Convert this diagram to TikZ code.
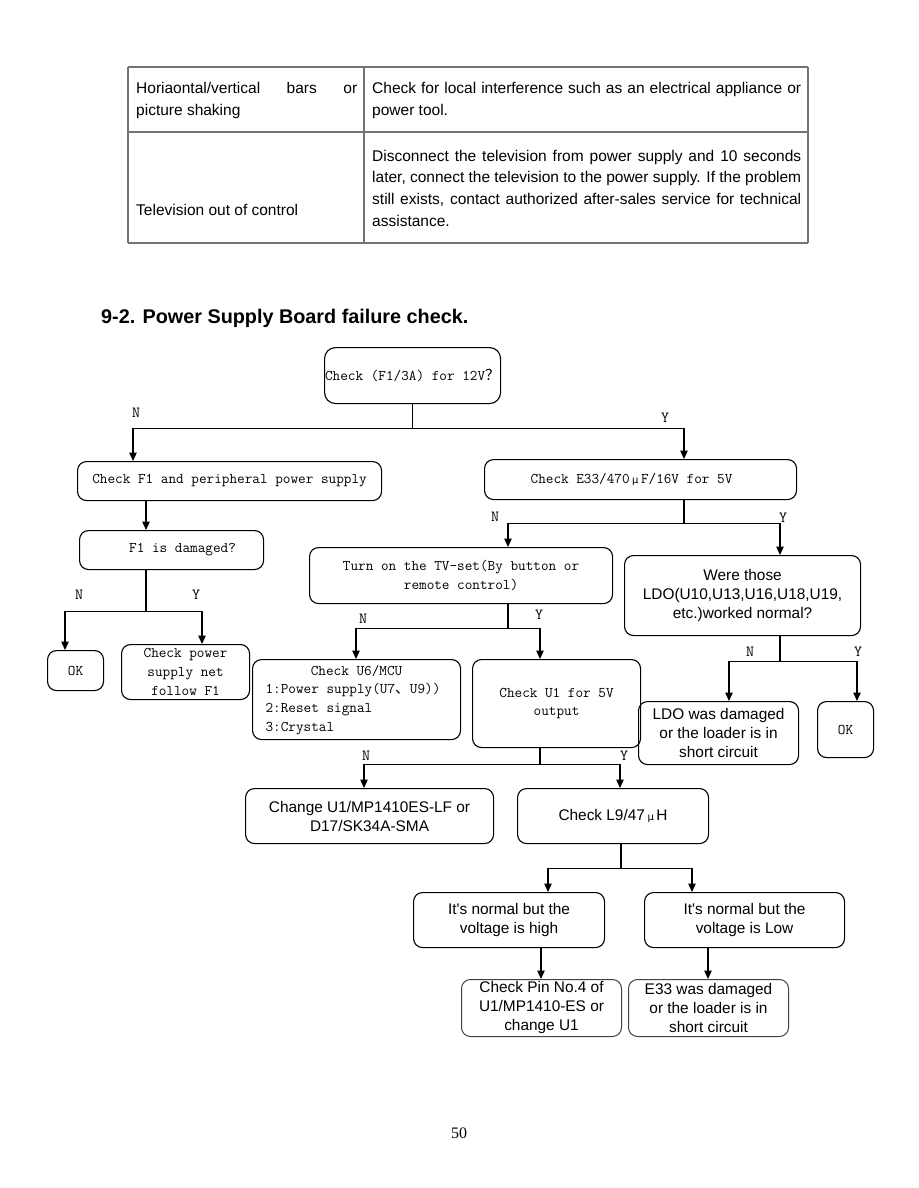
\documentclass[tikz,border=0pt]{standalone}
\usepackage{fontspec}
\usetikzlibrary{arrows.meta}
\newfontfamily\arial{Liberation Sans}
\newfontfamily\tnr{Liberation Serif}
\newfontfamily\cjk{Noto Sans CJK SC}
\newfontfamily\dvs{DejaVu Sans}
\newcommand\mufw{{\dvs\fontsize{10}{10}\selectfont μ}}
\begin{document}
\begin{tikzpicture}[x=1pt,y=-1pt,
  box/.style={draw, line width=1.1pt, rounded corners=9pt, anchor=north west, inner sep=0pt, align=center},
  mono/.style={font=\ttfamily\fontsize{14.8}{18.7}\selectfont},
  sans/.style={font=\arial\fontsize{15.4}{19}\selectfont},
  lbox/.style={box, draw=black!75, line width=1pt},
  arr/.style={line width=1.2pt, -{Triangle[length=8.5pt,width=7.5pt]}},
  ln/.style={line width=1.2pt},
  yn/.style={font=\ttfamily\fontsize{15.5}{15.5}\selectfont, inner sep=0pt},
  tline/.style={draw=black!55, line width=1.2pt},
  tcell/.style={anchor=base west, inner sep=0pt, font=\arial\fontsize{15.5}{21.7}\selectfont}]
\useasboundingbox[fill=white] (0,0) rectangle (918,1188);

% ---------- table ----------
\draw[tline, line width=1.8pt] (128,67) -- (808,67);
\draw[tline] (128,132) -- (808,132);
\draw[tline, line width=1.6pt] (128,243) -- (808,243);
\draw[tline] (128,67) -- (128,243);
\draw[tline] (364,67) -- (364,243);
\draw[tline] (808,67) -- (808,243);
\node[tcell] (t11) at (136,94) {\parbox[t]{221pt}{\makebox[221pt][s]{Horiaontal/vertical bars or}\\picture shaking}};
\node[tcell] (t12) at (372,94) {\parbox[t]{429pt}{\makebox[429pt][s]{Check for local interference such as an electrical appliance or}\\power tool.}};
\node[tcell] (t21) at (136,215) {Television out of control};
\node[tcell] (t22) at (372,161) {\parbox[t]{429pt}{\makebox[429pt][s]{Disconnect the television from power supply and 10 seconds}\\\makebox[429pt][s]{later, connect the television to the power supply. If the problem}\\\makebox[429pt][s]{still exists, contact authorized after-sales service for technical}\\assistance.}};

% ---------- title ----------
\node[anchor=base west, inner sep=0pt, font=\arial\bfseries\fontsize{19.8}{22}\selectfont] (title) at (101,323) {9-2. Power Supply Board failure check.};

% ---------- boxes ----------
\node[box, mono, minimum width=176pt, minimum height=56pt, rounded corners=11pt] (A) at (324,347) {Check (F1/3A) for 12V{\cjk ？}};
\node[box, mono, minimum width=304pt, minimum height=39pt] (B) at (77,461) {Check F1 and peripheral power supply};
\node[box, mono, minimum width=312pt, minimum height=40pt] (C) at (484,459) {Check E33/470\,\mufw\,F/16V for 5V\hspace*{18pt}};
\node[box, mono, minimum width=184pt, minimum height=39pt] (D) at (79,530) {\hspace*{22pt}F1 is damaged?};
\node[box, mono, minimum width=56pt, minimum height=40pt] (E) at (47,650) {OK};
\node[box, mono, minimum width=128pt, minimum height=55pt] (F) at (121,644) {Check power\\supply net\\follow F1};
\node[box, mono, minimum width=303pt, minimum height=56pt] (G) at (309,547) {Turn on the TV-set(By button or\\remote control)};
\node[box, sans, minimum width=236pt, minimum height=80pt] (H) at (624,555) {\raisebox{8pt}{\begin{tabular}{@{}c@{}}Were those\\LDO(U10,U13,U16,U18,U19,\\etc.)worked normal?\end{tabular}}};
\node[box, mono, minimum width=208pt, minimum height=80pt] (I) at (252,659) {\begin{tabular}{@{}l@{}}\makebox[182pt]{Check U6/MCU}\\1:Power supply(U7{\cjk 、}U9))\\2:Reset signal\\3:Crystal\end{tabular}};
\node[box, mono, minimum width=168pt, minimum height=88pt] (J) at (472,659) {Check U1 for 5V\\output};
\node[box, sans, minimum width=160pt, minimum height=63pt] (K) at (638,701) {LDO was damaged\\or the loader is in\\short circuit};
\node[box, mono, minimum width=56pt, minimum height=56pt] (L) at (817,701) {OK};
\node[box, sans, minimum width=248pt, minimum height=55pt] (M) at (245,788) {Change U1/MP1410ES-LF or\\D17/SK34A-SMA};
\node[box, sans, minimum width=191pt, minimum height=55pt] (Nn) at (517,788) {Check L9/47\,\mufw\,H};
\node[box, sans, minimum width=191pt, minimum height=55pt] (O) at (413,892) {It's normal but the\\voltage is high};
\node[box, sans, minimum width=200pt, minimum height=55pt] (P) at (644,892) {It's normal but the\\voltage is Low};
\node[lbox, sans, minimum width=160pt, minimum height=57pt] (Q) at (461,979) {Check Pin No.4 of\\U1/MP1410-ES or\\change U1};
\node[lbox, sans, minimum width=160pt, minimum height=57pt] (R) at (628,979) {E33 was damaged\\or the loader is in\\short circuit};

% ---------- connectors ----------
\path (A.south) ++(0,24) coordinate (jA);
\draw[ln] (A.south) -- (jA);
\draw[arr] (jA) -| ([xshift=56pt]B.north west);
\draw[arr] (jA) -| ([xshift=200pt]C.north west);
\node[yn] (nA) at (136,413) {N};
\node[yn] (yA) at (665,418) {Y};

\coordinate (b1) at ([xshift=69pt]B.south west);
\draw[arr] (b1) -- (b1 |- D.north);

\coordinate (d1) at ([xshift=67pt]D.south west);
\path (d1) ++(0,41) coordinate (jD);
\draw[ln] (d1) -- (jD);
\draw[arr] (jD) -| ([xshift=18pt]E.north west);
\draw[arr] (jD) -| ([xshift=81pt]F.north west);
\node[yn] (nD) at (79,595) {N};
\node[yn] (yD) at (196,595) {Y};

\coordinate (c1) at ([xshift=200pt]C.south west);
\path (c1) ++(0,23) coordinate (jC);
\draw[ln] (c1) -- (jC);
\draw[arr] (jC) -| ([xshift=199pt]G.north west);
\draw[arr] (jC) -| ([xshift=156pt]H.north west);
\node[yn] (nC) at (495,517) {N};
\node[yn] (yC) at (783,518) {Y};

\coordinate (g1) at ([xshift=199pt]G.south west);
\path (g1) ++(0,24) coordinate (jG);
\draw[ln] (g1) -- (jG);
\draw[arr] (jG) -| ([xshift=104pt]I.north west);
\draw[arr] (jG) -| ([xshift=68pt]J.north west);
\node[yn] (nG) at (363,619) {N};
\node[yn] (yG) at (539,615) {Y};

\coordinate (h1) at ([xshift=156pt]H.south west);
\path (h1) ++(0,25) coordinate (jH);
\draw[ln] (h1) -- (jH);
\draw[arr] (jH) -| ([xshift=91pt]K.north west);
\draw[arr] (jH) -| ([xshift=40pt]L.north west);
\node[yn] (nH) at (750,652) {N};
\node[yn] (yH) at (858,652) {Y};

\coordinate (jj1) at ([xshift=68pt]J.south west);
\path (jj1) ++(0,16) coordinate (jJ);
\draw[ln] (jj1) -- (jJ);
\draw[arr] (jJ) -| ([xshift=119pt]M.north west);
\draw[arr] (jJ) -| ([xshift=103pt]Nn.north west);
\node[yn] (nJ) at (366,756) {N};
\node[yn] (yJ) at (624,756) {Y};

\coordinate (n1) at ([xshift=104pt]Nn.south west);
\path (n1) ++(0,24) coordinate (jN);
\draw[ln] (n1) -- (jN);
\draw[arr] (jN) -| ([xshift=135pt]O.north west);
\draw[arr] (jN) -| ([xshift=48pt]P.north west);

\coordinate (o1) at ([xshift=128pt]O.south west);
\draw[arr] (o1) -- (o1 |- Q.north);
\coordinate (p1) at ([xshift=64pt]P.south west);
\draw[arr] (p1) -- (p1 |- R.north);

% ---------- page number ----------
\node[inner sep=0pt, font=\tnr\fontsize{16}{16}\selectfont] (page) at (459,1133) {50};
\end{tikzpicture}
\end{document}
